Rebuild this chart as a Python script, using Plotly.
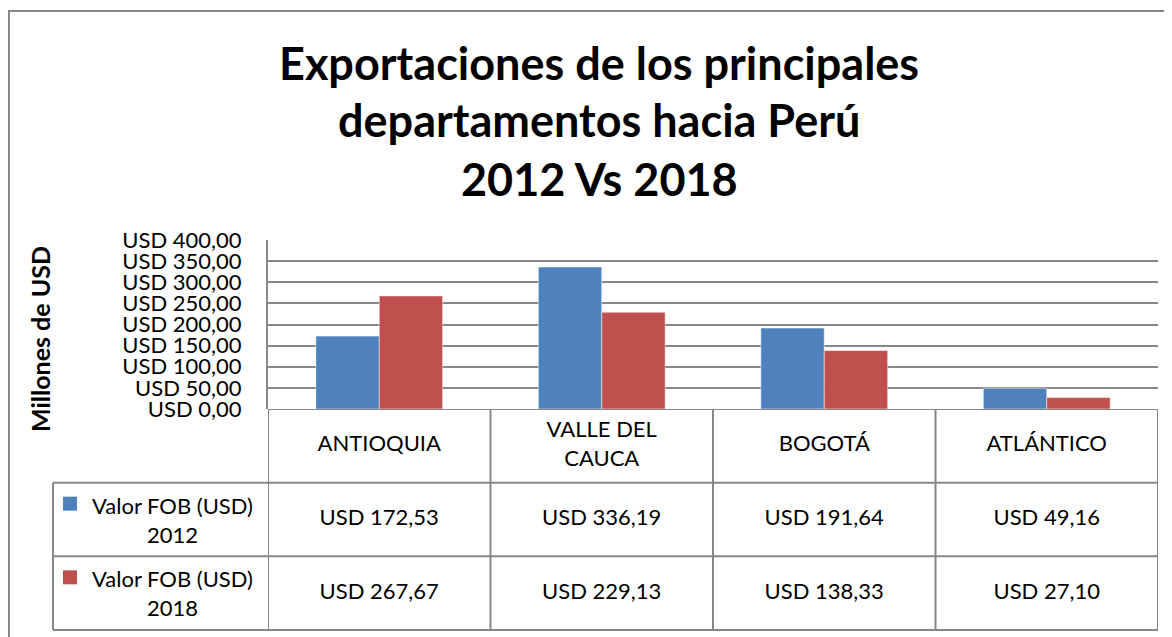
import plotly.graph_objects as go

categories = ["ANTIOQUIA", "VALLE DEL<br>CAUCA", "BOGOTÁ", "ATLÁNTICO"]
series_names = ["Valor FOB (USD)<br>2012", "Valor FOB (USD)<br>2018"]
fob_2012 = [172.53, 336.19, 191.64, 49.16]
fob_2018 = [267.67, 229.13, 138.33, 27.10]
y_ticks = [0, 50, 100, 150, 200, 250, 300, 350, 400]
title_lines = ["Exportaciones de los principales", "departamentos hacia Perú", "2012 Vs 2018"]
y_title = "Millones de USD"

BLUE = "#4F81BD"
RED = "#C0504D"
GRID = "#878787"
FONT = "Lato"


def usd(v):
    # 1234.5 -> "USD 1.234,50"
    s = f"{v:,.2f}".replace(",", "X").replace(".", ",").replace("X", ".")
    return "USD " + s


# page pixel layout (the page body adds an 8px offset)
OFF = 8
W, H = 1172, 637
L, R, T, B = 268, 1158, 240, 630
BAR_BOTTOM = 409
LEG_LEFT = 53
row_h = (B - BAR_BOTTOM) / 3


def px_x(p):
    return (p - L) / (R - L)


def px_y(p):
    return (B - p) / (B - T)


fig = go.Figure()
fig.add_trace(go.Bar(x=list(range(4)), y=fob_2012, marker=dict(color=BLUE, line=dict(color="rgba(255,255,255,0.5)", width=1)),
                     showlegend=False, hoverinfo="y"))
fig.add_trace(go.Bar(x=list(range(4)), y=fob_2018, marker=dict(color=RED, line=dict(color="rgba(255,255,255,0.5)", width=1)),
                     showlegend=False, hoverinfo="y"))

# table cells: header row 0, series rows 1 and 2 on the y2 axis
tx, ty, tt = [], [], []
for i, c in enumerate(categories):
    tx.append(i); ty.append(0.5); tt.append(c)
for r, vals in enumerate([fob_2012, fob_2018], start=1):
    for i, v in enumerate(vals):
        tx.append(i); ty.append(r + 0.5); tt.append(usd(v))
fig.add_trace(go.Scatter(x=tx, y=ty, text=tt, mode="text", xaxis="x", yaxis="y2",
                         textfont=dict(family=FONT, size=22, color="black"),
                         cliponaxis=False, showlegend=False, hoverinfo="skip"))

annotations = []
for r, name in enumerate(series_names, start=1):
    annotations.append(dict(x=px_x(172), y=r + 0.5, xref="paper", yref="y2", text=name, showarrow=False,
                            align="center", xanchor="center", yanchor="middle",
                            font=dict(family=FONT, size=22, color="black")))

title_y = [63, 120, 179]
for line, yp in zip(title_lines, title_y):
    annotations.append(dict(x=px_x(599), y=px_y(yp), xref="paper", yref="paper", text=f"<b>{line}</b>",
                            showarrow=False, xanchor="center", yanchor="middle",
                            font=dict(family=FONT, size=45, color="black")))

annotations.append(dict(x=px_x(40), y=px_y(339), xref="paper", yref="paper", text=f"<b>{y_title}</b>",
                        textangle=-90, showarrow=False, xanchor="center", yanchor="middle",
                        font=dict(family=FONT, size=25, color="black")))

line_style = dict(color=GRID, width=2)
shapes = []
# horizontal table lines
shapes.append(dict(type="line", xref="x", yref="y2", x0=-0.5, x1=3.5, y0=0, y1=0, line=line_style))
for r in [1, 2, 3]:
    yp = px_y(BAR_BOTTOM + r * row_h)
    shapes.append(dict(type="line", xref="paper", yref="paper", x0=px_x(LEG_LEFT), x1=1, y0=yp, y1=yp, line=line_style))
# vertical table lines
shapes.append(dict(type="line", xref="paper", yref="paper", x0=px_x(LEG_LEFT), x1=px_x(LEG_LEFT),
                   y0=px_y(BAR_BOTTOM + row_h), y1=0, line=line_style))
for xv in [-0.5, 0.5, 1.5, 2.5, 3.5]:
    shapes.append(dict(type="line", xref="x", yref="y2", x0=xv, x1=xv, y0=0, y1=3, line=line_style))
# legend keys
for r, col in enumerate([BLUE, RED], start=1):
    top = BAR_BOTTOM + r * row_h + 14
    shapes.append(dict(type="rect", xref="paper", yref="paper", x0=px_x(63), x1=px_x(77), y0=px_y(top + 14), y1=px_y(top),
                       line=dict(width=0), fillcolor=col))
# chart outer border
shapes.append(dict(type="rect", xref="paper", yref="paper", x0=px_x(9), x1=px_x(1190), y0=px_y(660), y1=px_y(11),
                   line=line_style, fillcolor="rgba(0,0,0,0)", layer="below"))

fig.update_layout(
    width=W, height=H,
    margin=dict(l=L - OFF, r=W - (R - OFF), t=T - OFF, b=H - (B - OFF), autoexpand=False),
    paper_bgcolor="white", plot_bgcolor="white",
    bargap=0.43, bargroupgap=0,
    font=dict(family=FONT, color="black"),
    xaxis=dict(range=[-0.5, 3.5], showticklabels=False, showgrid=False, zeroline=False, anchor="y",
               fixedrange=True),
    yaxis=dict(domain=[px_y(BAR_BOTTOM), 1], range=[0, 400], tickvals=y_ticks, ticktext=[usd(v) for v in y_ticks],
               tickfont=dict(family=FONT, size=22, color="black"), ticklabelstandoff=20,
               showgrid=True, gridcolor=GRID, gridwidth=2, zeroline=False,
               showline=True, linecolor=GRID, linewidth=2, fixedrange=True),
    yaxis2=dict(domain=[0, px_y(BAR_BOTTOM)], range=[3, 0], visible=False, anchor="x", fixedrange=True),
    annotations=annotations,
    shapes=shapes,
)

fig.write_html("out.html")
